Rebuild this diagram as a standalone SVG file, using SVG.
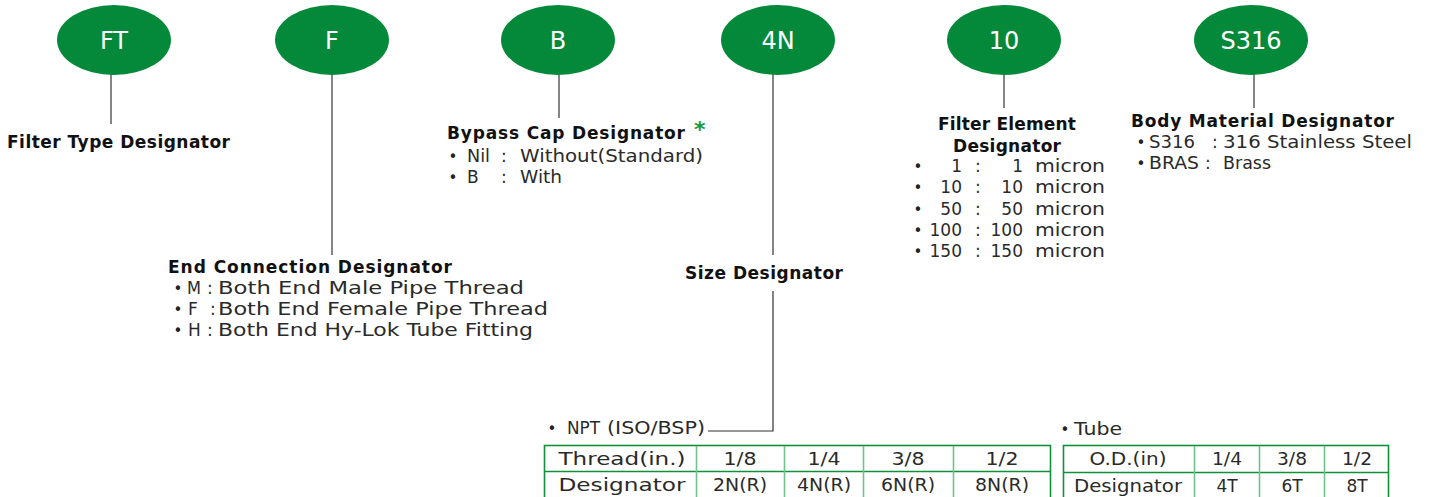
<svg xmlns="http://www.w3.org/2000/svg" width="1431" height="497" viewBox="0 0 1431 497">
<style>
.node ellipse{fill:#04893a}
.lbl{font-family:"DejaVu Sans",sans-serif;font-size:24px;fill:#fff;text-anchor:middle}
.h{font-family:"DejaVu Sans",sans-serif;font-size:17px;font-weight:bold;fill:#111}
.t{font-family:"DejaVu Sans",sans-serif;font-size:17px;fill:#2a2a2a}
.b{font-family:"DejaVu Sans",sans-serif;font-size:15px;fill:#222;text-anchor:middle}
.m{text-anchor:middle}
.e{text-anchor:end}
.conn line,.conn polyline{stroke:#333;stroke-width:1.2;fill:none}
.outer{fill:none;stroke:#11903c;stroke-width:1.6}
.inner{stroke:#6fc28a;stroke-width:1.6}
</style>
<g class="conn">
<line x1="111" y1="74" x2="111" y2="124"/>
<line x1="332" y1="74" x2="332" y2="255"/>
<line x1="559" y1="74" x2="559" y2="118"/>
<line x1="773" y1="74" x2="773" y2="255"/>
<polyline points="773,291 773,431 708,431"/>
<line x1="1004" y1="74" x2="1004" y2="108"/>
<line x1="1254" y1="74" x2="1254" y2="108"/>
</g>
<g id="node-FT" class="node"><ellipse cx="114" cy="40" rx="57" ry="35"/><text class="lbl" x="114" y="49">FT</text></g>
<g id="node-F" class="node"><ellipse cx="332" cy="40" rx="57" ry="35"/><text class="lbl" x="332" y="49">F</text></g>
<g id="node-B" class="node"><ellipse cx="558" cy="40" rx="57" ry="35"/><text class="lbl" x="558" y="49">B</text></g>
<g id="node-4N" class="node"><ellipse cx="778" cy="40" rx="57" ry="35"/><text class="lbl" x="778" y="49">4N</text></g>
<g id="node-10" class="node"><ellipse cx="1004" cy="40" rx="57" ry="35"/><text class="lbl" x="1004" y="49">10</text></g>
<g id="node-S316" class="node"><ellipse cx="1251" cy="40" rx="57" ry="35"/><text class="lbl" x="1251" y="49">S316</text></g>

<g id="filter-type">
<text class="h" x="7" y="148" textLength="223" lengthAdjust="spacing">Filter Type Designator</text>
</g>

<g id="bypass">
<text class="h" x="447" y="139" textLength="238" lengthAdjust="spacing">Bypass Cap Designator</text>
<text x="694" y="137" style="font-family:'DejaVu Sans',sans-serif;font-size:22px;font-weight:bold;fill:#1a9a3f">*</text>
<text class="b" x="453" y="162">•</text><text class="t" x="467" y="162" textLength="23" lengthAdjust="spacingAndGlyphs">Nil</text><text class="t" x="501" y="162">:</text><text class="t" x="520" y="162" textLength="183" lengthAdjust="spacingAndGlyphs">Without(Standard)</text>
<text class="b" x="453" y="183">•</text><text class="t" x="467" y="183">B</text><text class="t" x="501" y="183">:</text><text class="t" x="520" y="183" textLength="42" lengthAdjust="spacingAndGlyphs">With</text>
</g>

<g id="end-connection">
<text class="h" x="168" y="273" textLength="284" lengthAdjust="spacing">End Connection Designator</text>
<text class="b" x="178" y="294">•</text><text class="t" x="187" y="294" textLength="14" lengthAdjust="spacingAndGlyphs">M</text><text class="t" x="207" y="294">:</text><text class="t" x="218" y="294" textLength="306" lengthAdjust="spacingAndGlyphs">Both End Male Pipe Thread</text>
<text class="b" x="178" y="315">•</text><text class="t" x="188" y="315">F</text><text class="t" x="210" y="315">:</text><text class="t" x="218" y="315" textLength="330" lengthAdjust="spacingAndGlyphs">Both End Female Pipe Thread</text>
<text class="b" x="178" y="336">•</text><text class="t" x="188" y="336">H</text><text class="t" x="207" y="336">:</text><text class="t" x="218" y="336" textLength="315" lengthAdjust="spacingAndGlyphs">Both End Hy-Lok Tube Fitting</text>
</g>

<g id="size">
<text class="h" x="685" y="279" textLength="158" lengthAdjust="spacing">Size Designator</text>
</g>

<g id="filter-element">
<text class="h" x="938" y="130" textLength="138" lengthAdjust="spacing">Filter Element</text>
<text class="h" x="953" y="152" textLength="108" lengthAdjust="spacing">Designator</text>
<text class="b" x="918" y="172">•</text><text class="t e" x="962" y="172">1</text><text class="t" x="975" y="172">:</text><text class="t e" x="1023" y="172">1</text><text class="t" x="1035" y="172" textLength="70" lengthAdjust="spacingAndGlyphs">micron</text>
<text class="b" x="918" y="193">•</text><text class="t e" x="962" y="193">10</text><text class="t" x="975" y="193">:</text><text class="t e" x="1023" y="193">10</text><text class="t" x="1035" y="193" textLength="70" lengthAdjust="spacingAndGlyphs">micron</text>
<text class="b" x="918" y="215">•</text><text class="t e" x="962" y="215">50</text><text class="t" x="975" y="215">:</text><text class="t e" x="1023" y="215">50</text><text class="t" x="1035" y="215" textLength="70" lengthAdjust="spacingAndGlyphs">micron</text>
<text class="b" x="918" y="236">•</text><text class="t e" x="962" y="236">100</text><text class="t" x="975" y="236">:</text><text class="t e" x="1023" y="236">100</text><text class="t" x="1035" y="236" textLength="70" lengthAdjust="spacingAndGlyphs">micron</text>
<text class="b" x="918" y="257">•</text><text class="t e" x="962" y="257">150</text><text class="t" x="975" y="257">:</text><text class="t e" x="1023" y="257">150</text><text class="t" x="1035" y="257" textLength="70" lengthAdjust="spacingAndGlyphs">micron</text>
</g>

<g id="body-material">
<text class="h" x="1131" y="127" textLength="263" lengthAdjust="spacing">Body Material Designator</text>
<text class="b" x="1141" y="148">•</text><text class="t" x="1149" y="148" textLength="46" lengthAdjust="spacingAndGlyphs">S316</text><text class="t" x="1212" y="148">:</text><text class="t" x="1223" y="148" textLength="189" lengthAdjust="spacingAndGlyphs">316 Stainless Steel</text>
<text class="b" x="1141" y="169">•</text><text class="t" x="1149" y="169" textLength="50" lengthAdjust="spacingAndGlyphs">BRAS</text><text class="t" x="1205" y="169">:</text><text class="t" x="1223" y="169" textLength="48" lengthAdjust="spacingAndGlyphs">Brass</text>
</g>

<g id="npt-table">
<text class="b" x="552" y="434">•</text><text class="t" y="434"><tspan x="567" textLength="33" lengthAdjust="spacingAndGlyphs">NPT</tspan><tspan x="607" textLength="98" lengthAdjust="spacingAndGlyphs">(ISO/BSP)</tspan></text>
<rect class="outer" x="544.5" y="445.5" width="506" height="60"/>
<line class="outer" x1="544" y1="471.5" x2="1051" y2="471.5"/>
<line class="inner" x1="696.5" y1="446" x2="696.5" y2="497"/>
<line class="inner" x1="784.5" y1="446" x2="784.5" y2="497"/>
<line class="inner" x1="863.5" y1="446" x2="863.5" y2="497"/>
<line class="inner" x1="953.5" y1="446" x2="953.5" y2="497"/>
<text class="t m" x="622" y="465" textLength="127" lengthAdjust="spacingAndGlyphs">Thread(in.)</text>
<text class="t m" x="740" y="465" textLength="33" lengthAdjust="spacingAndGlyphs">1/8</text><text class="t m" x="824" y="465" textLength="33" lengthAdjust="spacingAndGlyphs">1/4</text><text class="t m" x="908" y="465" textLength="33" lengthAdjust="spacingAndGlyphs">3/8</text><text class="t m" x="1002" y="465" textLength="33" lengthAdjust="spacingAndGlyphs">1/2</text>
<text class="t m" x="622" y="491" textLength="127" lengthAdjust="spacingAndGlyphs">Designator</text>
<text class="t m" x="740" y="491" textLength="54" lengthAdjust="spacingAndGlyphs">2N(R)</text><text class="t m" x="824" y="491" textLength="54" lengthAdjust="spacingAndGlyphs">4N(R)</text><text class="t m" x="908" y="491" textLength="54" lengthAdjust="spacingAndGlyphs">6N(R)</text><text class="t m" x="1002" y="491" textLength="54" lengthAdjust="spacingAndGlyphs">8N(R)</text>
</g>

<g id="tube-table">
<text class="b" x="1065" y="435">•</text><text class="t" x="1074" y="435" textLength="48" lengthAdjust="spacingAndGlyphs">Tube</text>
<rect class="outer" x="1063.5" y="445.5" width="325" height="60"/>
<line class="outer" x1="1063" y1="472.5" x2="1389" y2="472.5"/>
<line class="inner" x1="1194.5" y1="446" x2="1194.5" y2="497"/>
<line class="inner" x1="1259.5" y1="446" x2="1259.5" y2="497"/>
<line class="inner" x1="1324.5" y1="446" x2="1324.5" y2="497"/>
<text class="t m" x="1128" y="465" textLength="77" lengthAdjust="spacingAndGlyphs">O.D.(in)</text>
<text class="t m" x="1227" y="465" textLength="30" lengthAdjust="spacingAndGlyphs">1/4</text><text class="t m" x="1292" y="465" textLength="30" lengthAdjust="spacingAndGlyphs">3/8</text><text class="t m" x="1357" y="465" textLength="30" lengthAdjust="spacingAndGlyphs">1/2</text>
<text class="t m" x="1128" y="492" textLength="108" lengthAdjust="spacingAndGlyphs">Designator</text>
<text class="t m" x="1227" y="492">4T</text><text class="t m" x="1292" y="492">6T</text><text class="t m" x="1357" y="492">8T</text>
</g>
</svg>
